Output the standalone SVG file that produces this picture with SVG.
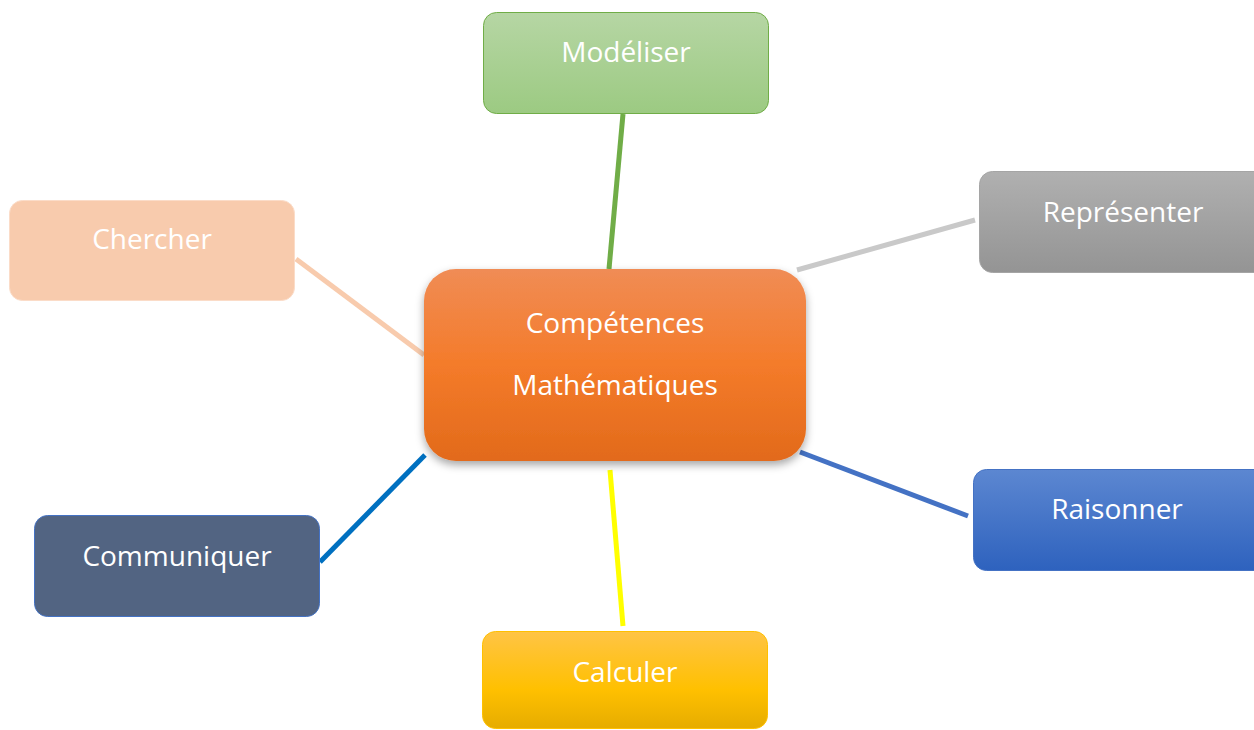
<svg xmlns="http://www.w3.org/2000/svg" width="1254" height="730" viewBox="0 0 1254 730">
<defs>
<linearGradient id="gOrange" x1="0" y1="0" x2="0" y2="1"><stop offset="0" stop-color="#F08C55"/><stop offset="0.5" stop-color="#F47B2A"/><stop offset="1" stop-color="#E26A1B"/></linearGradient>
<linearGradient id="gGreen" x1="0" y1="0" x2="0" y2="1"><stop offset="0" stop-color="#B6D6A4"/><stop offset="1" stop-color="#9CCA82"/></linearGradient>
<linearGradient id="gGray" x1="0" y1="0" x2="0" y2="1"><stop offset="0" stop-color="#B0B0B0"/><stop offset="1" stop-color="#949494"/></linearGradient>
<linearGradient id="gBlue" x1="0" y1="0" x2="0" y2="1"><stop offset="0" stop-color="#5C87D1"/><stop offset="1" stop-color="#2E62BE"/></linearGradient>
<linearGradient id="gGold" x1="0" y1="0" x2="0" y2="1"><stop offset="0" stop-color="#FFC445"/><stop offset="0.6" stop-color="#FFC000"/><stop offset="1" stop-color="#E6AC00"/></linearGradient>
<filter id="shadow" x="-10%" y="-10%" width="120%" height="130%"><feDropShadow dx="0" dy="4" stdDeviation="4" flood-color="#000" flood-opacity="0.35"/></filter>
</defs>
<style>
text{font-family:"Open Sans","Noto Sans",sans-serif;font-size:28px;fill:#fff;text-anchor:middle}
.conn line{stroke-width:5;stroke-linecap:butt}
</style>
<g id="connectors" class="conn">
<line x1="623" y1="114" x2="609" y2="269" stroke="#70AD47"/>
<line x1="797" y1="270" x2="975" y2="220" stroke="#C9C9C9"/>
<line x1="296" y1="259" x2="424" y2="355" stroke="#F8CBAD"/>
<line x1="320" y1="562" x2="425" y2="455" stroke="#0070C0"/>
<line x1="800" y1="452" x2="968" y2="516" stroke="#4472C4"/>
<line x1="610" y1="470" x2="623" y2="626" stroke="#FFFF00"/>
</g>
<g id="node-center">
<rect x="424" y="269" width="382" height="192" rx="32" fill="url(#gOrange)" filter="url(#shadow)"/>
<text x="615" y="333">Compétences</text>
<text x="615" y="395">Mathématiques</text>
</g>
<g id="node-modeliser">
<rect x="483.5" y="12.5" width="285" height="101" rx="13" fill="url(#gGreen)" stroke="#70AD47" stroke-width="1"/>
<text x="626" y="62">Modéliser</text>
</g>
<g id="node-chercher">
<rect x="9.5" y="200.5" width="285" height="100" rx="13" fill="#F8CBAD" stroke="#FBDCC8" stroke-width="1"/>
<text x="152" y="249">Chercher</text>
</g>
<g id="node-representer">
<rect x="979.5" y="171.5" width="290" height="101" rx="13" fill="url(#gGray)" stroke="#A5A5A5" stroke-width="1"/>
<text x="1123" y="222">Représenter</text>
</g>
<g id="node-raisonner">
<rect x="973.5" y="469.5" width="295" height="101" rx="13" fill="url(#gBlue)" stroke="#4472C4" stroke-width="1"/>
<text x="1117" y="519">Raisonner</text>
</g>
<g id="node-calculer">
<rect x="482.5" y="631.5" width="285" height="97" rx="13" fill="url(#gGold)" stroke="#FFC000" stroke-width="1"/>
<text x="625" y="682">Calculer</text>
</g>
<g id="node-communiquer">
<rect x="34.5" y="515.5" width="285" height="101" rx="13" fill="#526482" stroke="#4472C4" stroke-width="1"/>
<text x="177" y="566">Communiquer</text>
</g>
</svg>
